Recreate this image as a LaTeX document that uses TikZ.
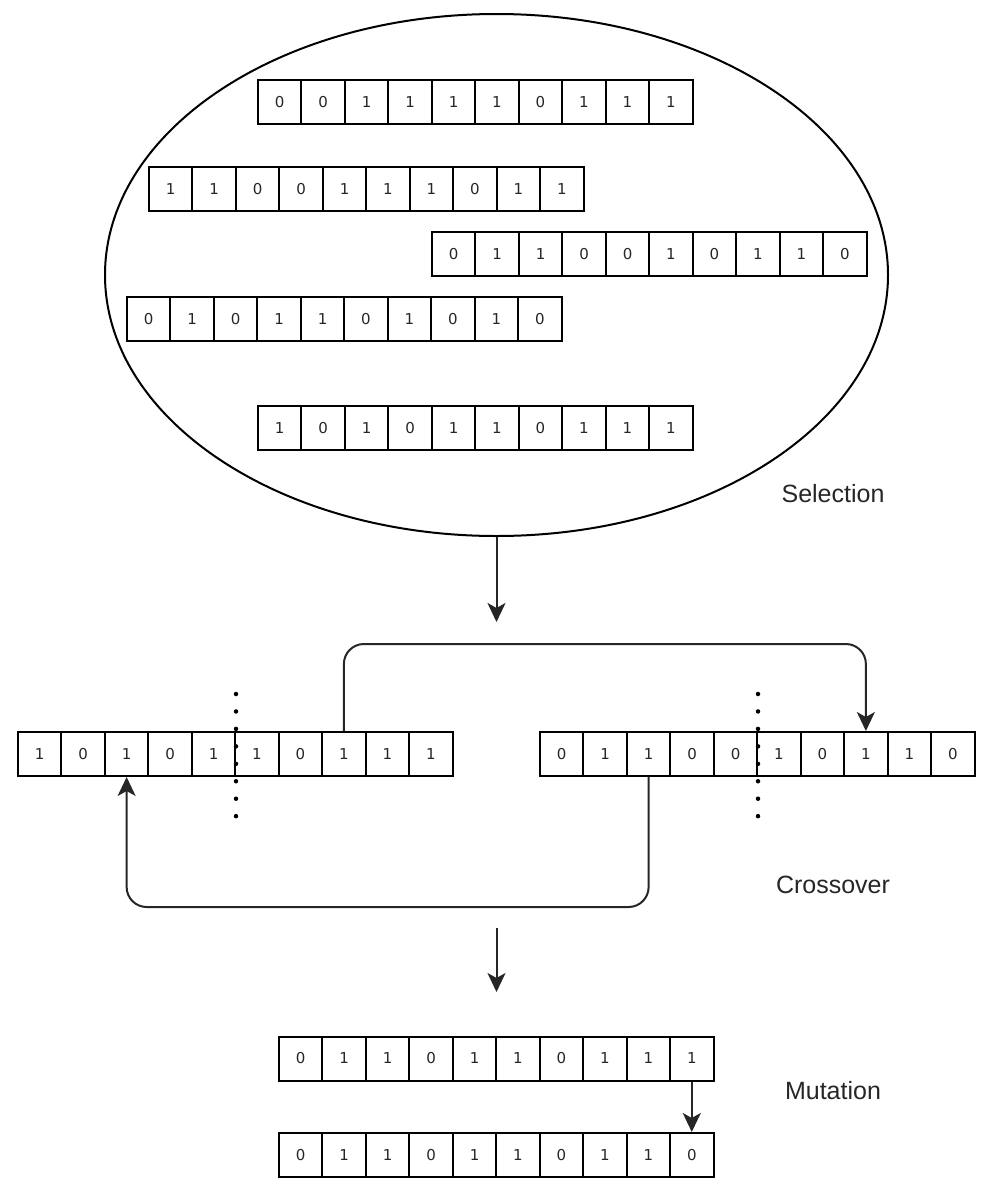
\documentclass[tikz,border=0pt]{standalone}
\usepackage{fontspec}
\setmainfont{Liberation Sans}
\newfontfamily\digitfont{DejaVu Sans}
\usetikzlibrary{arrows.meta,shapes.geometric}
\tikzset{
  cell/.style={draw=black, line width=2pt, minimum width=43.45pt, minimum height=44pt,
    inner sep=0pt, font=\digitfont\fontsize{15}{17}\selectfont, text=black!85},
  conn/.style={draw=black!85, line width=2pt, -{Stealth[length=19pt,width=18pt,inset=5pt]}},
  link/.style={draw=black!85, line width=2pt, rounded corners=20pt},
  cut/.style={draw=black, line width=4.5pt, line cap=round, dash pattern=on 0pt off 17.45pt},
  label/.style={font=\fontsize{25}{28}\selectfont, text=black!85},
}
\newcommand{\cellrow}[4]{% name, x0, ycenter, values
  \foreach \v [count=\i] in {#4}
    \node[cell] (#1-\i) at ({#2+(\i-0.5)*43.45}, #3) {\v};
}
\begin{document}
\begin{tikzpicture}[x=1pt,y=-1pt]
\useasboundingbox (0,0) rectangle (987,1200);
% population
\node[draw=black, line width=2pt, ellipse, minimum width=783pt, minimum height=522pt, inner sep=0pt]
  (pop) at (496.5,275) {};
\cellrow{pa}{258}{102}{0,0,1,1,1,1,0,1,1,1}
\cellrow{pb}{149}{189}{1,1,0,0,1,1,1,0,1,1}
\cellrow{pc}{432}{254}{0,1,1,0,0,1,0,1,1,0}
\cellrow{pd}{127}{319}{0,1,0,1,1,0,1,0,1,0}
\cellrow{pe}{258}{428}{1,0,1,0,1,1,0,1,1,1}
\node[label] (sel) at (833,494) {Selection};
% selection arrow
\coordinate (selend) at (496.5,622);
\draw[conn] (pop.south) -- (selend);
% crossover parents
\cellrow{L}{18}{754}{1,0,1,0,1,1,0,1,1,1}
\cellrow{R}{540}{754}{0,1,1,0,0,1,0,1,1,0}
\coordinate (cutLt) at (236,694);
\coordinate (cutLb) at (236,817);
\coordinate (cutRt) at (758,694);
\coordinate (cutRb) at (758,817);
\draw[cut] (cutLt) -- (cutLb);
\draw[cut] (cutRt) -- (cutRb);
\draw[link, conn] (L-8.north) -- ++(0,-87) -| (R-8.north);
\draw[link, conn] (R-3.south) -- ++(0,130) -| (L-3.south);
\node[label] (cro) at (833,885) {Crossover};
% crossover arrow
\coordinate (cs) at (496.5,928);
\coordinate (ce) at (496.5,992);
\draw[conn] (cs) -- (ce);
% mutation
\cellrow{MA}{279}{1058.5}{0,1,1,0,1,1,0,1,1,1}
\cellrow{MB}{279}{1155}{0,1,1,0,1,1,0,1,1,0}
\draw[conn] (MA-10.south) -- (MB-10.north);
\node[label] (mut) at (833,1091) {Mutation};
\end{tikzpicture}
\end{document}
